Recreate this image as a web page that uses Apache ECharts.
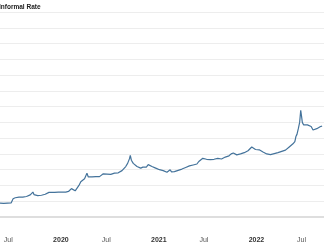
<!DOCTYPE html>
<html>
<head>
<meta charset="utf-8">
<script src="https://cdn.jsdelivr.net/npm/echarts@6/dist/echarts.min.js"></script>
<style>
html,body{margin:0;padding:0;background:#fff;}
#chart{width:324px;height:247px;}
</style>
</head>
<body>
<div id="chart"></div>
<script>
const titleText = 'Informal Rate';
const dates = [
'2019-06-24','2019-07-01','2019-07-08','2019-07-15','2019-07-22','2019-07-29','2019-08-05','2019-08-09','2019-08-12','2019-08-14',
'2019-08-20','2019-08-27','2019-09-03','2019-09-10','2019-09-17','2019-09-24','2019-10-01','2019-10-08','2019-10-15','2019-10-22',
'2019-10-25','2019-10-29','2019-11-05','2019-11-12','2019-11-19','2019-11-26','2019-12-03','2019-12-10','2019-12-17','2019-12-24',
'2020-01-02','2020-01-14','2020-01-28','2020-02-11','2020-02-25','2020-03-06','2020-03-12','2020-03-17','2020-03-24','2020-03-31',
'2020-04-07','2020-04-14','2020-04-21','2020-04-28','2020-05-05','2020-05-11','2020-05-14','2020-05-19','2020-05-26','2020-06-02',
'2020-06-16','2020-06-30','2020-07-07','2020-07-14','2020-07-21','2020-07-28','2020-08-04','2020-08-11','2020-08-18','2020-08-25',
'2020-09-01','2020-09-08','2020-09-15','2020-09-22','2020-09-29','2020-10-06','2020-10-13','2020-10-20','2020-10-23','2020-10-27',
'2020-11-03','2020-11-10','2020-11-17','2020-11-24','2020-12-01','2020-12-09','2020-12-15','2020-12-22','2020-12-29','2021-01-05',
'2021-01-12','2021-01-19','2021-01-26','2021-02-02','2021-02-09','2021-02-16','2021-02-23','2021-03-02','2021-03-09','2021-03-16',
'2021-03-21','2021-03-26','2021-04-06','2021-04-20','2021-05-04','2021-05-18','2021-06-01','2021-06-15','2021-06-29','2021-07-06',
'2021-07-13','2021-07-21','2021-07-28','2021-08-04','2021-08-11','2021-08-18','2021-08-25','2021-09-01','2021-09-08','2021-09-15',
'2021-09-22','2021-09-29','2021-10-06','2021-10-13','2021-10-20','2021-10-27','2021-11-04','2021-11-12','2021-11-18','2021-11-25',
'2021-12-02','2021-12-09','2021-12-16','2021-12-23','2021-12-30','2022-01-06','2022-01-13','2022-01-20','2022-01-27','2022-02-03',
'2022-02-10','2022-02-17','2022-02-24','2022-03-03','2022-03-10','2022-03-17','2022-03-24','2022-03-31','2022-04-04','2022-04-07',
'2022-04-14','2022-04-21','2022-04-28','2022-05-05','2022-05-12','2022-05-19','2022-05-26','2022-06-02','2022-06-09','2022-06-16',
'2022-06-23','2022-06-30','2022-07-04','2022-07-08','2022-07-13','2022-07-18','2022-07-22','2022-07-25','2022-07-28','2022-08-02',
'2022-08-09','2022-08-16','2022-08-23','2022-08-30','2022-09-06','2022-09-13','2022-09-20','2022-09-27','2022-10-04','2022-10-10'
];
const rates = [
44,43.5,43,43,44,44.5,45,46,58,60,
61,62,63,62,63,64,65,66,70,76,
79,71,69,68,68,69,70,72,76,78,
78,78,79,79,79,81,86,90,84,83,
86,100,112,118,121,126,139,127,125,127,
128,128,131,137,139,136,134,135,138,139,
137,140,145,147,150,160,170,185,195,180,
170,165,160,157,155,158,152,158,166,160,
160,157,155,152,150,148,147,145,142,141,
150,143,144,148,152,157,162,165,168,176,
180,186,181,183,180,182,185,183,184,186,
183,184,188,190,195,194,200,203,198,197,
199,200,202,204,206,210,215,222,217,214,
215,213,210,206,203,200,199,198,204,200,
201,202,204,206,208,210,212,215,222,228,
232,239,255,262,280,300,338,320,300,292,
293,292,290,287,276,274,280,284,287,288
];
const tickDates = ['2019-07-01','2020-01-01','2020-07-01','2021-01-01','2021-07-01','2022-01-01','2022-07-01'];
const tickLabels = ['Jul','2020','Jul','2021','Jul','2022','Jul'];
const xStart = '2019-06-24';
const xEnd = '2022-10-17';
const yMin = 0, yMax = 650, yStep = 50;

const toTs = s => Date.parse(s);
const tickTs = tickDates.map(toTs);
const chart = echarts.init(document.getElementById('chart'), null, {renderer: 'canvas'});
chart.setOption({
  animation: false,
  title: {
    text: titleText, left: -1, top: 4, padding: 0,
    textStyle: {fontSize: 6.5, fontWeight: 'bold', color: '#222', fontFamily: 'Liberation Sans, Arial, sans-serif'}
  },
  grid: {left: 0, right: 0, top: 12, bottom: 30, containLabel: false},
  xAxis: {
    type: 'value',
    min: toTs(xStart), max: toTs(xEnd),
    axisLine: {show: true, lineStyle: {color: '#dedede', width: 2}},
    axisTick: {show: false},
    splitLine: {show: false},
    axisLabel: {
      customValues: tickTs,
      showMinLabel: true, showMaxLabel: true,
      margin: 20,
      align: 'left',
      padding: [0, 0, 0, 2],
      fontSize: 7,
      fontFamily: 'Liberation Sans, Arial, sans-serif',
      formatter: function (v) {
        let best = 0, bd = Infinity;
        tickTs.forEach((t, i) => { const d = Math.abs(t - v); if (d < bd) { bd = d; best = i; } });
        const lab = tickLabels[best];
        return /^\d+$/.test(lab) ? '{y|' + lab + '}' : '{m|' + lab + '}';
      },
      rich: {
        y: {fontSize: 7, fontWeight: 'bold', color: '#333', fontFamily: 'Liberation Sans, Arial, sans-serif'},
        m: {fontSize: 7, color: '#555', fontFamily: 'Liberation Sans, Arial, sans-serif'}
      }
    }
  },
  yAxis: {
    type: 'value', min: yMin, max: yMax, interval: yStep,
    axisLabel: {show: false},
    axisLine: {show: false},
    axisTick: {show: false},
    splitLine: {lineStyle: {color: '#ededed', width: 1}}
  },
  series: [{
    type: 'line',
    showSymbol: false,
    data: dates.map((d, i) => [toTs(d), rates[i]]),
    lineStyle: {color: '#44739b', width: 1.2},
    emphasis: {disabled: true}
  }]
});
</script>
</body>
</html>
